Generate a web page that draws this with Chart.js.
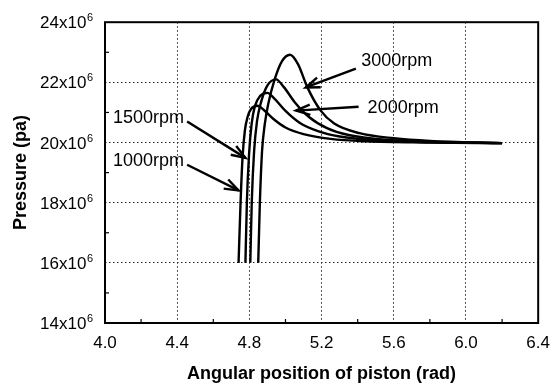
<!DOCTYPE html>
<html>
<head>
<meta charset="utf-8">
<script src="https://cdn.jsdelivr.net/npm/chart.js@4"></script>
<style>
  body { margin: 0; background: #fff; }
  #wrap { width: 560px; height: 390px; }
</style>
</head>
<body>
<div id="wrap"><canvas id="chart" width="560" height="390"></canvas></div>
<script>
// angular position (rad) / pressure (x10^6 pa)
const rad1000 = [4.740, 4.751, 4.762, 4.775, 4.790, 4.810, 4.844, 4.880, 4.930, 5.000, 5.100, 5.250, 5.450, 5.800, 6.200];
const p1000   = [16.0, 18.0, 19.5, 20.4, 20.85, 21.12, 21.22, 21.08, 20.80, 20.50, 20.28, 20.12, 20.04, 20.00, 19.98];

const rad1500 = [4.778, 4.786, 4.798, 4.812, 4.830, 4.860, 4.899, 4.940, 5.000, 5.080, 5.180, 5.300, 5.500, 5.800, 6.200];
const p1500   = [16.0, 18.0, 19.6, 20.6, 21.2, 21.55, 21.65, 21.45, 21.05, 20.65, 20.38, 20.20, 20.07, 20.01, 19.98];

const rad2000 = [4.805, 4.813, 4.826, 4.842, 4.865, 4.900, 4.948, 4.990, 5.050, 5.130, 5.230, 5.350, 5.550, 5.850, 6.200];
const p2000   = [16.0, 18.0, 19.7, 20.7, 21.35, 21.9, 22.10, 21.85, 21.35, 20.85, 20.48, 20.25, 20.09, 20.02, 19.98];

const rad3000 = [4.849, 4.858, 4.870, 4.885, 4.905, 4.940, 4.980, 5.025, 5.070, 5.120, 5.195, 5.270, 5.410, 5.600, 5.800, 6.200];
const p3000   = [16.0, 18.0, 19.7, 20.6, 21.3, 22.1, 22.7, 22.92, 22.6, 21.85, 21.06, 20.63, 20.31, 20.14, 20.05, 19.98];

const xTicks = [4.0, 4.4, 4.8, 5.2, 5.6, 6.0, 6.4];
const yTicks = [14, 16, 18, 20, 22, 24];

// speed labels with arrows (data coordinates)
const labels     = ['3000rpm', '2000rpm', '1500rpm', '1000rpm'];
const labelX     = [5.420, 5.455, 4.044, 4.044];
const labelY     = [22.72, 21.14, 20.80, 19.39];
const arrowFromX = [5.390, 5.405, 4.455, 4.455];
const arrowFromY = [22.46, 21.19, 20.70, 19.26];
const arrowToX   = [5.112, 5.058, 4.778, 4.740];
const arrowToY   = [21.83, 21.06, 19.49, 18.41];

const FONT = '"Liberation Sans", Arial, sans-serif';

const toPoints = (xs, ys) => xs.map((x, i) => ({ x: x, y: ys[i] }));

function curve(xs, ys) {
    return {
        data: toPoints(xs, ys),
        showLine: true,
        borderColor: '#000',
        borderWidth: 2.4,
        pointRadius: 0,
        cubicInterpolationMode: 'monotone'
    };
}

// frame, minor ticks, y labels with superscript, rpm labels
const extras = {
    id: 'extras',
    afterDatasetsDraw(chart) {
        const ctx = chart.ctx;
        const a = chart.chartArea;
        const xs = chart.scales.x;
        const ys = chart.scales.y;
        ctx.save();
        ctx.strokeStyle = '#000';
        ctx.lineWidth = 2;
        ctx.strokeRect(a.left, a.top, a.right - a.left, a.bottom - a.top);

        ctx.lineWidth = 1.2;
        for (let v = 4.2; v < 6.4; v += 0.4) {
            const px = xs.getPixelForValue(v);
            ctx.beginPath();
            ctx.moveTo(px, a.bottom);
            ctx.lineTo(px, a.bottom - 4);
            ctx.stroke();
        }
        for (let v = 15; v < 24; v += 2) {
            const py = ys.getPixelForValue(v);
            ctx.beginPath();
            ctx.moveTo(a.left, py);
            ctx.lineTo(a.left + 4, py);
            ctx.stroke();
        }

        // y tick labels: NNx10 with a raised 6
        ctx.fillStyle = '#000';
        ctx.textBaseline = 'alphabetic';
        yTicks.forEach(v => {
            const py = ys.getPixelForValue(v);
            ctx.font = '11px ' + FONT;
            ctx.textAlign = 'right';
            const right = a.left - 12;
            ctx.fillText('6', right, py - 1);
            const sw = ctx.measureText('6').width + 0.5;
            ctx.font = '17px ' + FONT;
            ctx.fillText(v + 'x10', right - sw, py + 6);
        });

        ctx.font = '18px ' + FONT;
        ctx.textBaseline = 'middle';
        ctx.textAlign = 'left';
        labels.forEach((t, i) => {
            ctx.fillText(t, xs.getPixelForValue(labelX[i]), ys.getPixelForValue(labelY[i]));
            const x0 = xs.getPixelForValue(arrowFromX[i]);
            const y0 = ys.getPixelForValue(arrowFromY[i]);
            const x1 = xs.getPixelForValue(arrowToX[i]);
            const y1 = ys.getPixelForValue(arrowToY[i]);
            const ang = Math.atan2(y1 - y0, x1 - x0);
            ctx.lineWidth = 2.4;
            ctx.beginPath();
            ctx.moveTo(x0, y0);
            ctx.lineTo(x1, y1);
            ctx.stroke();
            ctx.beginPath();
            ctx.moveTo(x1 - 15 * Math.cos(ang - 0.35), y1 - 15 * Math.sin(ang - 0.35));
            ctx.lineTo(x1, y1);
            ctx.lineTo(x1 - 15 * Math.cos(ang + 0.35), y1 - 15 * Math.sin(ang + 0.35));
            ctx.stroke();
        });
        ctx.restore();
    }
};

const gridColor = (c) => {
    const n = c.scale.ticks.length;
    return (c.index === 0 || c.index === n - 1) ? 'rgba(0,0,0,0)' : '#222';
};

new Chart(document.getElementById('chart'), {
    type: 'scatter',
    data: {
        datasets: [
            curve(rad1000, p1000),
            curve(rad1500, p1500),
            curve(rad2000, p2000),
            curve(rad3000, p3000)
        ]
    },
    options: {
        responsive: false,
        animation: false,
        layout: { padding: { top: 17, right: 18, left: 0, bottom: 0 } },
        plugins: {
            legend: { display: false },
            tooltip: { enabled: false }
        },
        scales: {
            x: {
                type: 'linear',
                min: 4.0,
                max: 6.4,
                afterBuildTicks: (s) => { s.ticks = xTicks.map(v => ({ value: v })); },
                afterFit: (s) => { s.height = 67; },
                border: { display: false, dash: [1.5, 2.5] },
                grid: { color: gridColor, lineWidth: 1, drawTicks: false },
                ticks: {
                    padding: 10,
                    color: '#000',
                    font: { family: FONT, size: 17 },
                    callback: (v) => v.toFixed(1)
                },
                title: {
                    display: true,
                    text: 'Angular position of piston (rad)',
                    color: '#000',
                    font: { family: FONT, size: 18, weight: 'bold' },
                    padding: { top: 0, bottom: 5 }
                }
            },
            y: {
                type: 'linear',
                min: 14,
                max: 24,
                afterBuildTicks: (s) => { s.ticks = yTicks.map(v => ({ value: v })); },
                afterFit: (s) => { s.width = 105; },
                border: { display: false, dash: [1.5, 2.5] },
                grid: { color: gridColor, lineWidth: 1, drawTicks: false },
                ticks: {
                    padding: 12,
                    color: '#000',
                    font: { family: FONT, size: 17 },
                    callback: () => ''
                },
                title: {
                    display: true,
                    text: 'Pressure (pa)',
                    color: '#000',
                    font: { family: FONT, size: 18, weight: 'bold' },
                    padding: { top: 10, bottom: 0 }
                }
            }
        }
    },
    plugins: [extras]
});
</script>
</body>
</html>
